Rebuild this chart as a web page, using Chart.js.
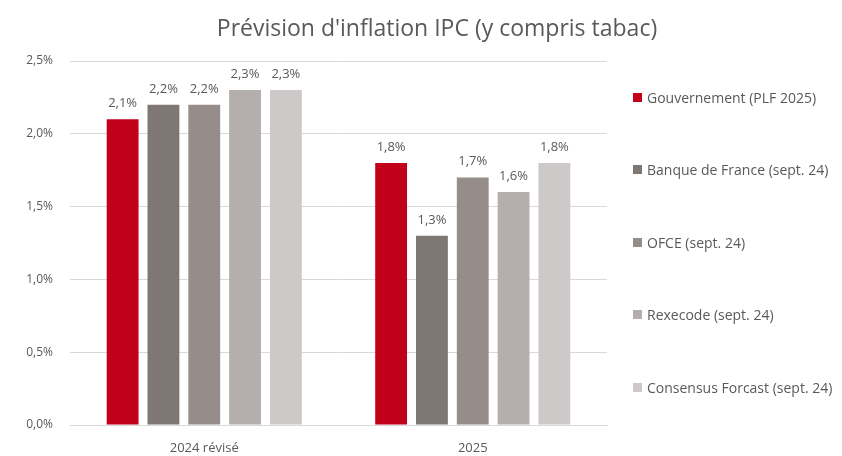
<!DOCTYPE html>
<html>
<head>
<meta charset="utf-8">
<script src="https://cdn.jsdelivr.net/npm/chart.js@4.4.1/dist/chart.umd.min.js"></script>
<style>
  html, body { margin: 0; padding: 0; background: #fff; }
  #wrap { position: relative; width: 842px; height: 456px; font-family: 'Open Sans', sans-serif; color: #595959; }
  #chartBox { position: absolute; left: 0; top: 0; width: 842px; height: 456px; }
  #title { position: absolute; left: 0; width: 874px; top: 12px; text-align: center; font-size: 23px; line-height: 30px; white-space: nowrap; }
  #legend { position: absolute; left: 633px; top: 89px; margin: 0; padding: 0; list-style: none; }
  #legend li { display: flex; align-items: center; height: 16px; margin-bottom: 56.5px; font-size: 14px; white-space: nowrap; }
  #legend li span.box { display: inline-block; width: 9px; height: 9px; margin-right: 5px; }
</style>
</head>
<body>
<div id="wrap">
  <div id="chartBox"><canvas id="chart"></canvas></div>
  <div id="title">Prévision d'inflation IPC (y compris tabac)</div>
  <ul id="legend"></ul>
</div>
<script>
const categories = ["2024 révisé", "2025"];
const seriesNames = [
  "Gouvernement (PLF 2025)",
  "Banque de France (sept. 24)",
  "OFCE (sept. 24)",
  "Rexecode (sept. 24)",
  "Consensus Forcast (sept. 24)"
];
const gouvernement = [2.1, 1.8];
const banqueDeFrance = [2.2, 1.3];
const ofce = [2.2, 1.7];
const rexecode = [2.3, 1.6];
const consensus = [2.3, 1.8];
const seriesColors = ["#C10019", "#7F7773", "#968D8A", "#B4AFAD", "#CDC9C8"];
const yTicks = [0, 0.5, 1, 1.5, 2, 2.5];

const fmt = v => v.toFixed(1).replace(".", ",") + "%";
const FONT = "'Open Sans', sans-serif";

// draws the value above each bar
const valueLabels = {
  id: "valueLabels",
  afterDatasetsDraw(chart) {
    const ctx = chart.ctx;
    ctx.save();
    ctx.font = "13px " + FONT;
    ctx.fillStyle = "#595959";
    ctx.textAlign = "center";
    ctx.textBaseline = "alphabetic";
    chart.data.datasets.forEach((ds, i) => {
      chart.getDatasetMeta(i).data.forEach((bar, j) => {
        ctx.fillText(fmt(ds.data[j]), bar.x, bar.y - 12);
      });
    });
    ctx.restore();
  }
};

// legend as html list, built from the chart's own legend items
const htmlLegend = {
  id: "htmlLegend",
  afterUpdate(chart) {
    const ul = document.getElementById("legend");
    ul.innerHTML = "";
    chart.options.plugins.legend.labels.generateLabels(chart).forEach(item => {
      const li = document.createElement("li");
      const box = document.createElement("span");
      box.className = "box";
      box.style.background = item.fillStyle;
      li.appendChild(box);
      li.appendChild(document.createTextNode(item.text));
      ul.appendChild(li);
    });
  }
};

const allSeries = [gouvernement, banqueDeFrance, ofce, rexecode, consensus];

new Chart(document.getElementById("chart"), {
  type: "bar",
  data: {
    labels: categories,
    datasets: allSeries.map((d, i) => ({
      label: seriesNames[i],
      data: d,
      backgroundColor: seriesColors[i],
      categoryPercentage: 0.76,
      barPercentage: 0.78
    }))
  },
  options: {
    responsive: true,
    maintainAspectRatio: false,
    animation: false,
    layout: { padding: { left: 10, right: 235, top: 61, bottom: 0 } },
    plugins: {
      title: { display: false },
      legend: { display: false },
      tooltip: { enabled: false }
    },
    scales: {
      y: {
        min: 0,
        max: 2.5,
        afterFit: axis => { axis.width = 60; },
        afterBuildTicks: axis => { axis.ticks = yTicks.map(v => ({ value: v })); },
        ticks: {
          color: "#595959",
          font: { family: FONT, size: 12 },
          padding: 17,
          callback: v => fmt(v)
        },
        grid: { color: "#D9D9D9", drawTicks: false },
        border: { display: false }
      },
      x: {
        afterFit: axis => { axis.height = 31; },
        ticks: {
          color: "#595959",
          font: { family: FONT, size: 13 },
          padding: 7
        },
        grid: { display: false },
        border: { color: "#D9D9D9" }
      }
    }
  },
  plugins: [valueLabels, htmlLegend]
});
</script>
</body>
</html>
